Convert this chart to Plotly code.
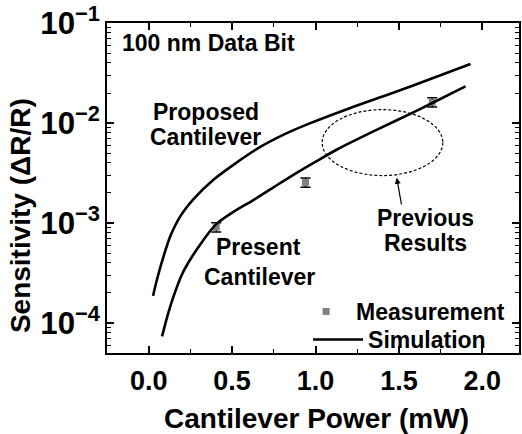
import plotly.graph_objects as go

# ---- data ----
prop_power = [0.026, 0.050, 0.090, 0.130, 0.190, 0.270, 0.390, 0.510, 0.659, 0.809,
              0.969, 1.209, 1.449, 1.689, 1.929]
prop_sens = [1.87e-4, 2.74e-4, 4.69e-4, 7.41e-4, 1.175e-3, 1.75e-3, 2.73e-3, 3.85e-3,
             5.65e-3, 7.67e-3, 1.00e-2, 1.42e-2, 1.97e-2, 2.76e-2, 3.90e-2]

pres_power = [0.080, 0.110, 0.150, 0.200, 0.250, 0.310, 0.360, 0.410, 0.510, 0.630,
              0.750, 0.870, 0.999, 1.129, 1.369, 1.599, 1.839, 1.899]
pres_sens = [7.35e-5, 1.14e-4, 1.87e-4, 3.08e-4, 4.35e-4, 6.13e-4, 8.01e-4, 9.93e-4,
             1.30e-3, 1.71e-3, 2.29e-3, 3.06e-3, 4.10e-3, 5.45e-3, 8.61e-3, 1.31e-2,
             2.08e-2, 2.33e-2]

meas_power = [0.405, 0.94, 1.70]
meas_sens = [9.1e-4, 2.55e-3, 1.62e-2]
meas_err = [9.5e-5, 2.7e-4, 1.7e-3]

prev_x = [1.04, 1.763]          # "Previous Results" ellipse extent (mW)
prev_y = [2.99e-3, 1.365e-2]    # ellipse extent (ΔR/R)

x_ticks = [0.0, 0.5, 1.0, 1.5, 2.0]
x_tick_text = ["0.0", "0.5", "1.0", "1.5", "2.0"]

FONT = "Liberation Sans, Arial, sans-serif"

fig = go.Figure()

fig.add_trace(go.Scatter(
    x=meas_power, y=meas_sens, mode="markers", name="Measurement",
    marker=dict(symbol="square", size=7, color="#808080"),
    error_y=dict(type="data", array=meas_err, color="black", thickness=1.5, width=5),
    legend="legend",
))
fig.add_trace(go.Scatter(
    x=prop_power, y=prop_sens, mode="lines", name="Simulation",
    line=dict(color="black", width=2.6, shape="spline", smoothing=0.8),
    legendgroup="sim", showlegend=True, legend="legend2",
))
fig.add_trace(go.Scatter(
    x=pres_power, y=pres_sens, mode="lines", name="Simulation",
    line=dict(color="black", width=2.6, shape="spline", smoothing=0.8),
    legendgroup="sim", showlegend=False, legend="legend2",
))

fig.add_shape(type="circle", xref="x", yref="y",
              x0=prev_x[0], x1=prev_x[1], y0=prev_y[0], y1=prev_y[1],
              line=dict(color="black", width=1.2, dash="3px,2px"))

txt = dict(family=FONT, size=23, color="black", weight="bold")
ann = [
    ("100 nm Data Bit", -0.17, -1.197, "left"),
    ("Proposed", 0.342, -1.885, "center"),
    ("Cantilever", 0.342, -2.135, "center"),
    ("Present", 0.658, -3.24, "center"),
    ("Cantilever", 0.665, -3.543, "center"),
    ("Previous", 1.659, -2.953, "center"),
    ("Results", 1.659, -3.20, "center"),
]
for t, x, ly, xa in ann:
    fig.add_annotation(text=t, x=x, y=ly, xref="x", yref="y", showarrow=False,
                       xanchor=xa, yanchor="middle", font=txt)

fig.add_annotation(text="", x=1.487, y=-2.547, xref="x", yref="y",
                   showarrow=True, ax=5, ay=28, arrowhead=2, arrowsize=1,
                   arrowwidth=1.2, arrowcolor="black")

# axis titles
title_font = dict(family=FONT, size=28, color="black", weight="bold")
fig.add_annotation(text="Cantilever Power (mW)", xref="paper", yref="paper",
                   x=0.508, y=-0.197, showarrow=False, xanchor="center",
                   yanchor="middle", font=title_font)
fig.add_annotation(text="Sensitivity (ΔR/R)", xref="paper", yref="paper",
                   x=-0.211, y=0.415, showarrow=False, xanchor="center",
                   yanchor="middle", textangle=-90, font=title_font)

leg_font = dict(family=FONT, size=23, color="black", weight="bold")
fig.update_layout(
    width=522, height=434,
    margin=dict(l=107, r=3, t=23, b=81),
    paper_bgcolor="white", plot_bgcolor="white",
    font=dict(family=FONT, color="black"),
    showlegend=True,
    legend=dict(x=0.459, y=0.191, xanchor="left", yanchor="top",
                bgcolor="rgba(0,0,0,0)", itemwidth=50, font=leg_font),
    legend2=dict(x=0.488, y=0.106, xanchor="left", yanchor="top",
                 bgcolor="rgba(0,0,0,0)", itemwidth=50, font=leg_font),
)

fig.update_xaxes(
    range=[-0.25, 2.22], tickvals=x_ticks, ticktext=x_tick_text, automargin=False,
    ticks="inside", ticklen=7, tickwidth=1.5, tickcolor="black",
    showline=True, linewidth=2, linecolor="black", mirror="ticks",
    showgrid=False, zeroline=False, ticklabeloverflow="allow", ticklabelstandoff=3,
    minor=dict(ticks="inside", ticklen=4, tickwidth=1.2, tickcolor="black", dtick=0.25),
    tickfont=dict(family=FONT, size=27, color="black", weight="bold"),
)
fig.update_yaxes(
    type="log", range=[-4.3, -0.998], dtick=1, exponentformat="power", automargin=False,
    ticks="inside", ticklen=7, tickwidth=1.5, tickcolor="black",
    showline=True, linewidth=2, linecolor="black", mirror="ticks",
    showgrid=False, zeroline=False, ticklabeloverflow="allow",
    minor=dict(ticks="inside", ticklen=4, tickwidth=1.2, tickcolor="black", dtick="D1"),
    tickfont=dict(family=FONT, size=25, color="black", weight="bold"),
)

fig.write_html("out.html", config={"displayModeBar": False},
               post_script="document.body.style.margin='0';document.body.style.overflow='hidden';")
